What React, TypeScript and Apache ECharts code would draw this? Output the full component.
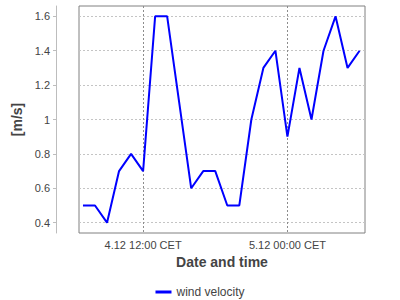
import React, { useEffect, useRef } from "react";
import * as echarts from "echarts";

// hours since 4.12 00:00 CET
const hours = [7, 8, 9, 10, 11, 12, 13, 14, 15, 16, 17, 18, 19, 20, 21, 22, 23, 24, 25, 26, 27, 28, 29, 30];
const windVelocity = [0.5, 0.5, 0.4, 0.7, 0.8, 0.7, 1.6, 1.6, 1.1, 0.6, 0.7, 0.7, 0.5, 0.5, 1.0, 1.3, 1.4, 0.9, 1.3, 1.0, 1.4, 1.6, 1.3, 1.4];
const xTickValues = [12, 24];
const xTickLabels = ["4.12 12:00 CET", "5.12 00:00 CET"];
const yTickValues = [0.4, 0.6, 0.8, 1.0, 1.2, 1.4, 1.6];
const seriesName = "wind velocity";

export default function App() {
  const ref = useRef<HTMLDivElement>(null);
  useEffect(() => {
    if (!ref.current) return;
    const chart = echarts.init(ref.current, null, { renderer: "svg" });
    const font = "'Liberation Sans', Arial, sans-serif";
    chart.setOption({
      animation: false,
      textStyle: { fontFamily: font },
      grid: {
        left: 79,
        right: 35,
        top: 6,
        bottom: 67,
        show: true,
        borderColor: "#808080",
        borderWidth: 1,
        backgroundColor: "#ffffff",
      },
      legend: {
        data: [seriesName],
        left: "center",
        top: 281,
        icon: "rect",
        itemWidth: 16,
        itemHeight: 3,
        itemGap: 10,
        textStyle: { fontSize: 12, color: "#444444", fontFamily: font },
      },
      xAxis: {
        type: "value",
        min: 6.67,
        max: 30.45,
        name: "Date and time",
        nameLocation: "middle",
        nameGap: 22,
        nameTextStyle: { fontSize: 14, fontWeight: "bold", color: "#444444", fontFamily: font },
        axisLine: { show: false },
        axisTick: { show: false, customValues: xTickValues },
        axisLabel: {
          customValues: xTickValues,
          fontSize: 11,
          color: "#444444",
          margin: 6,
          formatter: (v: number) => {
            const i = xTickValues.indexOf(Math.round(v));
            return i >= 0 ? xTickLabels[i] : "";
          },
        },
        splitLine: {
          show: true,
          lineStyle: { color: "#8c8c8c", type: [2, 2], width: 1 },
        },
      },
      yAxis: {
        type: "value",
        min: 0.34,
        max: 1.66,
        offset: 23,
        name: "[m/s]",
        nameLocation: "middle",
        nameGap: 26,
        nameTextStyle: { fontSize: 14, fontWeight: "bold", color: "#444444", fontFamily: font },
        axisLine: { show: true, lineStyle: { color: "#bdbdbd", width: 1 } },
        axisTick: { show: true, length: 3, customValues: yTickValues, lineStyle: { color: "#bdbdbd" } },
        axisLabel: {
          customValues: yTickValues,
          fontSize: 11,
          color: "#444444",
          margin: 6,
          formatter: (v: number) => String(Math.round(v * 10) / 10),
        },
        splitLine: {
          show: true,
          lineStyle: { color: "#c4c4c4", type: [2, 2], width: 1 },
        },
      },
      series: [
        {
          name: seriesName,
          type: "line",
          data: hours.map((h, i) => [h, windVelocity[i]]),
          symbol: "none",
          lineStyle: { color: "#0000ff", width: 2 },
          itemStyle: { color: "#0000ff" },
        },
      ],
    });
    return () => chart.dispose();
  }, []);
  return (
    <div
      ref={ref}
      style={{ position: "fixed", left: 0, top: 0, width: 400, height: 300, background: "#ffffff" }}
    />
  );
}
